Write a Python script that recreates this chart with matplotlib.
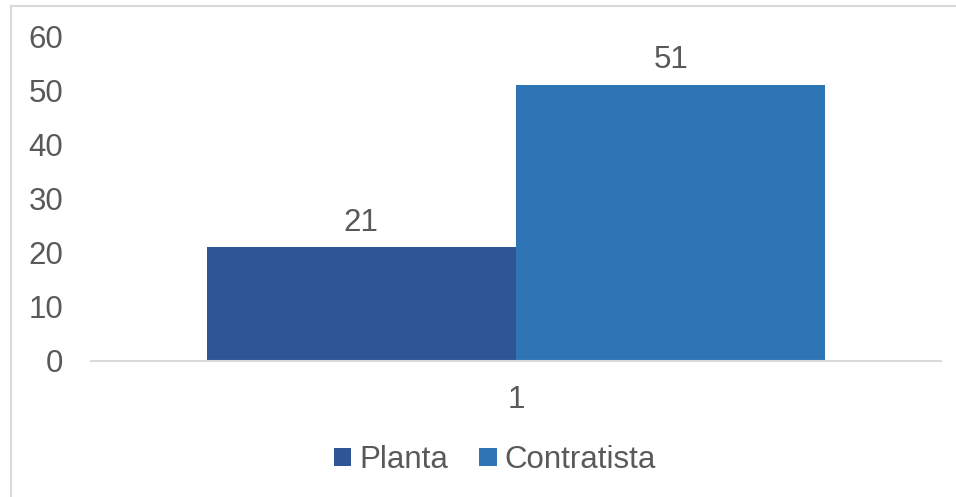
import matplotlib.pyplot as plt
from matplotlib.patches import Rectangle

categories = ['1']
series_names = ['Planta', 'Contratista']
series_values = [[21], [51]]
colors = ['#2F5597', '#2E75B6']
text_color = '#595959'

plt.rcParams['font.family'] = ['Liberation Sans', 'DejaVu Sans']
fs = 22.5

fig = plt.figure(figsize=(9.56, 4.97), dpi=100)
ax = fig.add_axes([91 / 956, 136 / 497, 850 / 956, 325 / 497])

width = 0.364
offsets = [-width / 2, width / 2]
for name, vals, off, c in zip(series_names, series_values, offsets, colors):
    xs = [i + off for i in range(len(categories))]
    bars = ax.bar(xs, vals, width=width, color=c, label=name, zorder=2)
    for b, v in zip(bars, vals):
        ax.annotate(str(v), (b.get_x() + b.get_width() / 2, v),
                    xytext=(0, 7), textcoords='offset points',
                    ha='center', va='bottom', fontsize=fs, color=text_color)

ax.set_xlim(-0.5, len(categories) - 0.5)
ax.set_ylim(0, 60)
ax.set_yticks(range(0, 61, 10))
ax.set_xticks(range(len(categories)))
ax.set_xticklabels(categories)
ax.tick_params(axis='y', length=0, pad=20, labelsize=fs, labelcolor=text_color)
ax.tick_params(axis='x', length=0, pad=17, labelsize=fs, labelcolor=text_color)
for s in ['top', 'right', 'left']:
    ax.spines[s].set_visible(False)
ax.spines['bottom'].set_color('#D9D9D9')
ax.spines['bottom'].set_linewidth(1.5)

leg = fig.legend(loc='center', bbox_to_anchor=(495 / 956, 37 / 497), ncol=2,
                 frameon=False, fontsize=fs, handlelength=0.55, handleheight=0.55,
                 handletextpad=0.25, columnspacing=1.0, borderpad=0)
for t in leg.get_texts():
    t.set_color(text_color)

fig.patches.append(Rectangle((11 / 956, -0.05), 1.2, 1.05 - 5.5 / 497, transform=fig.transFigure,
                             fill=False, edgecolor='#D9D9D9', linewidth=1.5))

fig.savefig('out.png', dpi=100)
